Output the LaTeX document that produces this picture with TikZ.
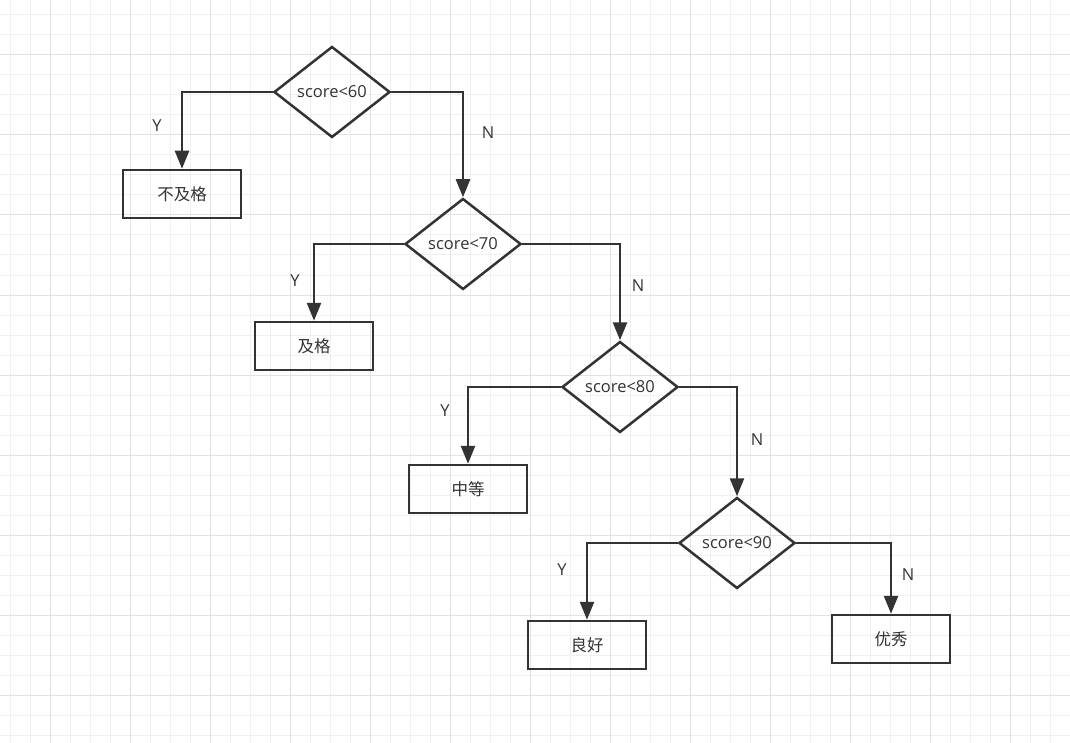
\documentclass[tikz,border=0pt]{standalone}
\usepackage{fontspec}
\setmainfont{Open Sans}
\newfontfamily\cjk{Noto Sans CJK SC}
\usetikzlibrary{shapes.geometric,arrows.meta}
\definecolor{ink}{HTML}{333333}
\definecolor{txt}{HTML}{333333}
\definecolor{gridminor}{HTML}{F0F0F0}
\definecolor{gridmajor}{HTML}{E2E2E2}
\tikzset{
  decision/.style={diamond,draw=ink,line width=2.5pt,minimum width=116pt,minimum height=91pt,inner sep=0pt,aspect=1.27,font=\fontsize{16.5}{18}\selectfont,text=txt},
  outcome/.style={rectangle,draw=ink,line width=2.5pt,minimum width=118pt,minimum height=48pt,inner sep=0pt,font=\cjk\fontsize{16.5}{18}\selectfont,text=txt},
  flow/.style={draw=ink,line width=2.5pt,-{Triangle[length=18pt,width=14pt]}},
  lbl/.style={font=\fontsize{16.5}{18}\selectfont,text=txt}
}
\begin{document}
\begin{tikzpicture}[x=1pt,y=-1pt]
\fill[white] (0,0) rectangle (1070,743);
\useasboundingbox (0,0) rectangle (1070,743);
\foreach \x in {10,30,...,1070} \draw[gridminor,line width=1pt] (\x,0) -- (\x,743);
\foreach \y in {15,35,...,743} \draw[gridminor,line width=1pt] (0,\y) -- (1070,\y);
\foreach \x in {50,130,...,1070} \draw[gridmajor,line width=1pt] (\x,0) -- (\x,743);
\foreach \y in {55,135,...,743} \draw[gridmajor,line width=1pt] (0,\y) -- (1070,\y);

\node[decision] (d1) at (332,92) {score<60};
\node[decision] (d2) at (463,244) {score<70};
\node[decision] (d3) at (620,387) {score<80};
\node[decision] (d4) at (737,543) {score<90};

\node[outcome] (b1) at (182,194) {不及格};
\node[outcome] (b2) at (314,346) {及格};
\node[outcome] (b3) at (468,489) {中等};
\node[outcome] (b4) at (587,645) {良好};
\node[outcome] (b5) at (891,639) {优秀};

\draw[flow] (d1.west) -| (b1.north);
\draw[flow] (d1.east) -| (d2.north);
\draw[flow] (d2.west) -| (b2.north);
\draw[flow] (d2.east) -| (d3.north);
\draw[flow] (d3.west) -| (b3.north);
\draw[flow] (d3.east) -| (d4.north);
\draw[flow] (d4.west) -| (b4.north);
\draw[flow] (d4.east) -| (b5.north);

\node[lbl] (y1) at (157,126) {Y};
\node[lbl] (n1) at (488,133) {N};
\node[lbl] (y2) at (295,281) {Y};
\node[lbl] (n2) at (638,286) {N};
\node[lbl] (y3) at (445,411) {Y};
\node[lbl] (n3) at (757,440) {N};
\node[lbl] (y4) at (562,570) {Y};
\node[lbl] (n4) at (908,575) {N};
\end{tikzpicture}
\end{document}
